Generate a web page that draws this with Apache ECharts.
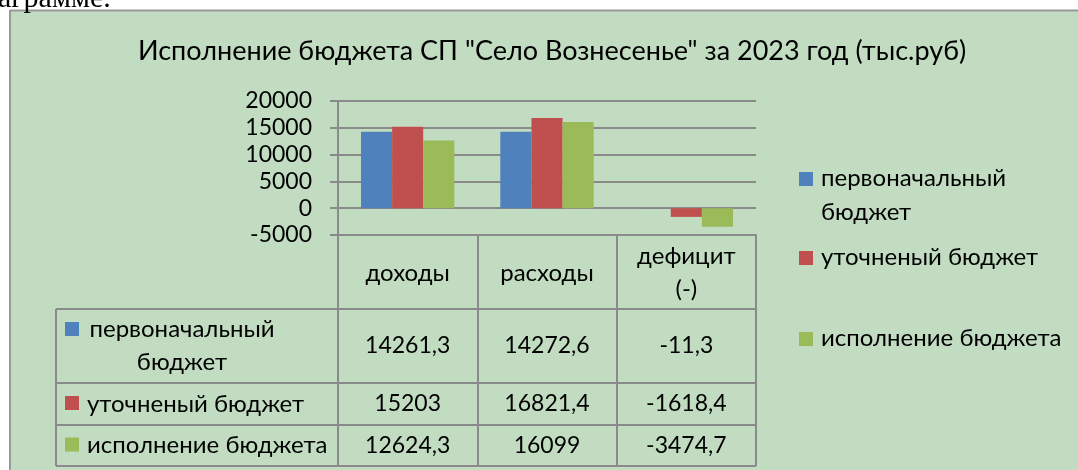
<!DOCTYPE html>
<html><head><meta charset="utf-8">
<script src="https://cdn.jsdelivr.net/npm/echarts@6/dist/echarts.min.js"></script>
<style>html,body{margin:0;padding:0;background:#fff}#c{width:1078px;height:470px}</style>
</head><body><div id="c"></div>
<script>
const titleText = 'Исполнение бюджета СП "Село Вознесенье" за 2023 год (тыс.руб)';
const categories = ['доходы', 'расходы', 'дефицит\n(-)'];
const seriesNames = ['первоначальный бюджет', 'уточненый бюджет', 'исполнение бюджета'];
const rowLabels = ['первоначальный\nбюджет', 'уточненый бюджет', 'исполнение бюджета'];
const planned = [14261.3, 14272.6, -11.3];
const revised = [15203, 16821.4, -1618.4];
const executed = [12624.3, 16099, -3474.7];
const yMin = -5000, yMax = 20000, yStep = 5000;
const colors = ['#4f81bd', '#c0504d', '#9bbb59'];
const pageText = 'аграмме.';

const FONT = 'Lato, "Open Sans", sans-serif';
const GRAY = '#8a8a8a';
const BG = '#c1dcc1';
const seriesData = [planned, revised, executed];
const fmt = v => String(v).replace('.', ',');

const chart = echarts.init(document.getElementById('c'), null, {renderer: 'canvas'});
const base = {
  animation: false,
  backgroundColor: BG,
  color: colors,
  textStyle: {fontFamily: FONT, color: '#000'},
  title: {
    text: titleText, left: 133, top: 33,
    textStyle: {fontFamily: FONT, fontWeight: 'normal', fontSize: 27, color: '#000'}
  },
  grid: {left: 338, right: 322, top: 101, height: 134, containLabel: false},
  xAxis: {
    type: 'category', data: categories, position: 'bottom',
    axisLine: {onZero: false, lineStyle: {color: GRAY, width: 2}},
    axisTick: {show: true, length: 231, lineStyle: {color: GRAY, width: 2}},
    axisLabel: {fontFamily: FONT, fontSize: 24, color: '#000', margin: 38, verticalAlign: 'middle', lineHeight: 33, interval: 0}
  },
  yAxis: {
    type: 'value', min: yMin, max: yMax, interval: yStep,
    axisLine: {show: true, lineStyle: {color: GRAY, width: 2}},
    axisTick: {show: true, length: 8, lineStyle: {color: GRAY, width: 2}},
    splitLine: {lineStyle: {color: GRAY, width: 2}},
    axisLabel: {fontFamily: FONT, fontSize: 23, color: '#000', margin: 26, formatter: v => String(v)}
  },
  series: seriesNames.map((n, i) => ({
    name: n, type: 'bar', data: seriesData[i],
    barGap: '0%', barCategoryGap: '33%',
    itemStyle: {color: colors[i]}
  }))
};
chart.setOption(base);

// table + legend from the library's scales
const cx = categories.map((c, i) => chart.convertToPixel({xAxisIndex: 0}, i));
const band = cx[1] - cx[0];
const tableRight = cx[cx.length - 1] + band / 2;
const tableLeft = 56;
const rowEdges = [309, 383, 425, 466];
const g = [];
// page strip & chart border
g.push({type: 'rect', shape: {x: 0, y: 0, width: 1078, height: 10}, style: {fill: '#fff'}, z: 100});
g.push({type: 'rect', shape: {x: 0, y: 0, width: 9, height: 470}, style: {fill: '#fff'}, z: 100});
g.push({type: 'line', shape: {x1: 10, y1: 10.5, x2: 1078, y2: 10.5}, style: {stroke: '#999', lineWidth: 2}, z: 101});
g.push({type: 'line', shape: {x1: 10, y1: 10, x2: 10, y2: 470}, style: {stroke: '#999', lineWidth: 2}, z: 101});
g.push({type: 'text', x: -2, y: -1, z: 102, style: {text: pageText, font: '30px "Liberation Serif", serif', fill: '#000', align: 'left', verticalAlign: 'middle'}});
// table lines
rowEdges.forEach(y => g.push({type: 'line', shape: {x1: tableLeft, y1: y, x2: tableRight, y2: y}, style: {stroke: GRAY, lineWidth: 2}}));
g.push({type: 'line', shape: {x1: tableLeft, y1: rowEdges[0], x2: tableLeft, y2: rowEdges[3]}, style: {stroke: GRAY, lineWidth: 2}});
// table rows
seriesData.forEach((arr, r) => {
  const top = rowEdges[r], bot = rowEdges[r + 1], mid = (top + bot) / 2;
  const sqY = r === 0 ? 322 : mid - 8;
  g.push({type: 'rect', shape: {x: 65, y: sqY, width: 14, height: 14}, style: {fill: colors[r]}});
  if (r === 0) {
    g.push({type: 'text', x: 182, y: mid, style: {text: rowLabels[r], fill: '#000', font: '24px ' + FONT, align: 'center', verticalAlign: 'middle', lineHeight: 33}});
  } else {
    g.push({type: 'text', x: 87, y: mid, style: {text: rowLabels[r], fill: '#000', font: '24px ' + FONT, align: 'left', verticalAlign: 'middle'}});
  }
  arr.forEach((v, c) => {
    g.push({type: 'text', x: cx[c], y: mid, style: {text: fmt(v), fill: '#000', font: '23px ' + FONT, align: 'center', verticalAlign: 'middle'}});
  });
});
// legend on the right
const legY = [179, 258, 339];
rowLabels.forEach((t, i) => {
  g.push({type: 'rect', shape: {x: 799, y: legY[i] - 7, width: 14, height: 14}, style: {fill: colors[i]}});
  g.push({type: 'text', x: 821, y: legY[i] - 18, style: {text: t, fill: '#000', font: '24px ' + FONT, align: 'left', verticalAlign: 'top', lineHeight: 34}});
});
chart.setOption({graphic: {elements: g}});
</script></body></html>
